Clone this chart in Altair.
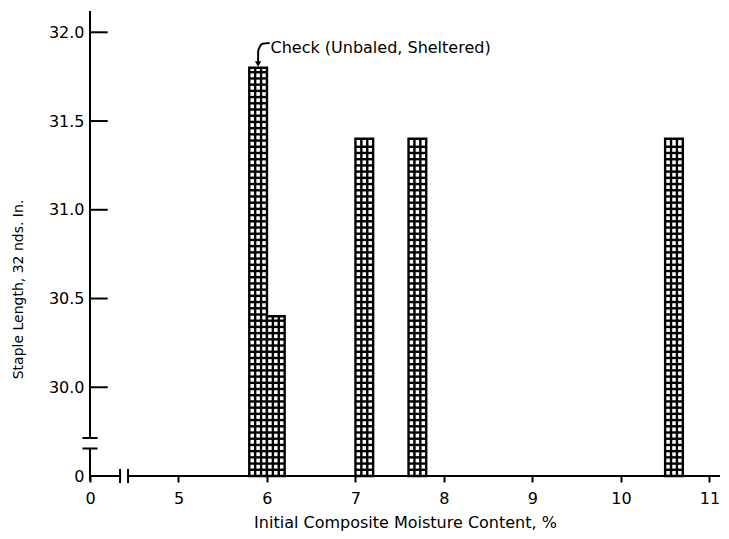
import altair as alt
import pandas as pd

# ---------------- data ----------------
bar_start = [5.8, 6.0, 7.0, 7.6, 10.5]      # moisture content, % (left edge)
bar_end = [6.0, 6.2, 7.2, 7.8, 10.7]        # moisture content, % (right edge)
staple = [31.8, 30.4, 31.4, 31.4, 31.4]     # staple length, 32nds in.

x_tick_values = [4, 5, 6, 7, 8, 9, 10, 11]  # 4 = the broken-axis "0"
y_tick_values = [29.5, 30.0, 30.5, 31.0, 31.5, 32.0]  # 29.5 = the broken-axis "0"

ZERO_X = 4.0
ZERO_Y = 29.5
X_DOMAIN = [4.0, 11.12]
Y_DOMAIN = [29.5, 32.12]

annotation_text = ["Check (Unbaled, Sheltered)"]
annotation_x = [6.04]
annotation_y = [31.91]
arrow_x = [6.03, 5.95, 5.915, 5.9, 5.9]
arrow_y = [31.94, 31.935, 31.915, 31.89, 31.83]
arrow_head = [5.9, 31.822]

FONT = "DejaVu Sans"

# ---------------- tables ----------------
bars = pd.DataFrame({"x0": bar_start, "x1": bar_end, "y0": [ZERO_Y] * len(staple), "v": staple})

HATCH_STEP = 0.035
rows = []
for s, e, v in zip(bar_start, bar_end, staple):
    w = e - s
    for k in (1, 2):
        rows.append({"x0": s + k * w / 3, "x1": s + k * w / 3, "y0": ZERO_Y, "v": v})
    y = ZERO_Y + HATCH_STEP
    while y < v - HATCH_STEP * 0.35:
        rows.append({"x0": s, "x1": e, "y0": y, "v": y})
        y += HATCH_STEP
hatch = pd.DataFrame(rows)

axis_rows = [
    # y axis line with break
    {"x0": ZERO_X, "x1": ZERO_X, "y0": 29.47, "v": 29.655},
    {"x0": ZERO_X, "x1": ZERO_X, "y0": 29.714, "v": Y_DOMAIN[1]},
    {"x0": 3.915, "x1": 4.085, "y0": 29.655, "v": 29.655},
    {"x0": 3.915, "x1": 4.085, "y0": 29.714, "v": 29.714},
    # x axis line with break
    {"x0": ZERO_X, "x1": 4.34, "y0": ZERO_Y, "v": ZERO_Y},
    {"x0": 4.43, "x1": X_DOMAIN[1], "y0": ZERO_Y, "v": ZERO_Y},
    {"x0": 4.34, "x1": 4.34, "y0": 29.46, "v": 29.54},
    {"x0": 4.43, "x1": 4.43, "y0": 29.46, "v": 29.54},
]
for t in y_tick_values[1:]:
    axis_rows.append({"x0": ZERO_X, "x1": ZERO_X + 0.2, "y0": t, "v": t})
axis_lines = pd.DataFrame(axis_rows)

arrow = pd.DataFrame({"x0": arrow_x, "y0": arrow_y, "o": list(range(len(arrow_x)))})
head = pd.DataFrame({"x0": [arrow_head[0]], "y0": [arrow_head[1]]})
note = pd.DataFrame({"x0": annotation_x, "y0": annotation_y, "t": annotation_text})

# ---------------- scales / axes ----------------
xs = alt.Scale(domain=X_DOMAIN, nice=False, zero=False)
ys = alt.Scale(domain=Y_DOMAIN, nice=False, zero=False)

x_axis = alt.Axis(
    values=x_tick_values, format="d",
    labelExpr="datum.value == 4 ? '0' : datum.label",
    domain=False, grid=False, ticks=True, tickSize=6, tickWidth=2, tickColor="black",
    labelFont=FONT, labelFontSize=16, labelColor="black", labelPadding=8,
    labelFlush=False, labelOverlap=False,
    title="Initial Composite Moisture Content, %",
    titleFont=FONT, titleFontSize=16, titleFontWeight="normal", titleColor="black",
    titleX=315, titleY=46, titleAnchor="middle", titleBaseline="middle",
)
y_axis = alt.Axis(
    values=y_tick_values, format=".1f",
    labelExpr="datum.value == 29.5 ? '0' : datum.label",
    domain=False, grid=False, ticks=False, labelPadding=6,
    labelFlush=False, labelOverlap=False,
    labelFont=FONT, labelFontSize=16, labelColor="black",
    title="Staple Length, 32 nds. In.",
    titleFont=FONT, titleFontSize=14, titleFontWeight="normal", titleColor="black",
    titleX=-72, titleY=278, titleAngle=270, titleAlign="center", titleBaseline="middle",
)

X = alt.X("x0:Q", scale=xs, axis=x_axis)
Y = alt.Y("y0:Q", scale=ys, axis=y_axis)

bar_layer = alt.Chart(bars).mark_rect(fill="white", stroke="black", strokeWidth=2.4).encode(
    x=X, x2="x1:Q", y=Y, y2="v:Q",
)

hatch_layer = alt.Chart(hatch).mark_rule(color="black", strokeWidth=2.4).encode(
    x=X, x2="x1:Q", y=Y, y2="v:Q",
)

axis_layer = alt.Chart(axis_lines).mark_rule(color="black", strokeWidth=2).encode(
    x=X, x2="x1:Q", y=Y, y2="v:Q",
)

arrow_layer = alt.Chart(arrow).mark_line(color="black", strokeWidth=2, interpolate="monotone").encode(
    x=X, y=Y, order="o:Q",
)

head_layer = alt.Chart(head).mark_point(shape="triangle-down", filled=True, color="black", size=40, opacity=1).encode(
    x=X, y=Y,
)

note_layer = alt.Chart(note).mark_text(align="left", baseline="middle", font=FONT, fontSize=16, color="black").encode(
    x=X, y=Y, text="t:N",
)

chart = alt.layer(
    bar_layer, hatch_layer, axis_layer, arrow_layer, head_layer, note_layer
).properties(
    width=630, height=465,
    autosize=alt.AutoSizeParams(type="none"),
    padding={"left": 82, "top": 3, "right": 0, "bottom": 55},
    background="white",
).configure_view(stroke=None)

chart.save("out.html", embed_options={"renderer": "svg", "actions": False})
